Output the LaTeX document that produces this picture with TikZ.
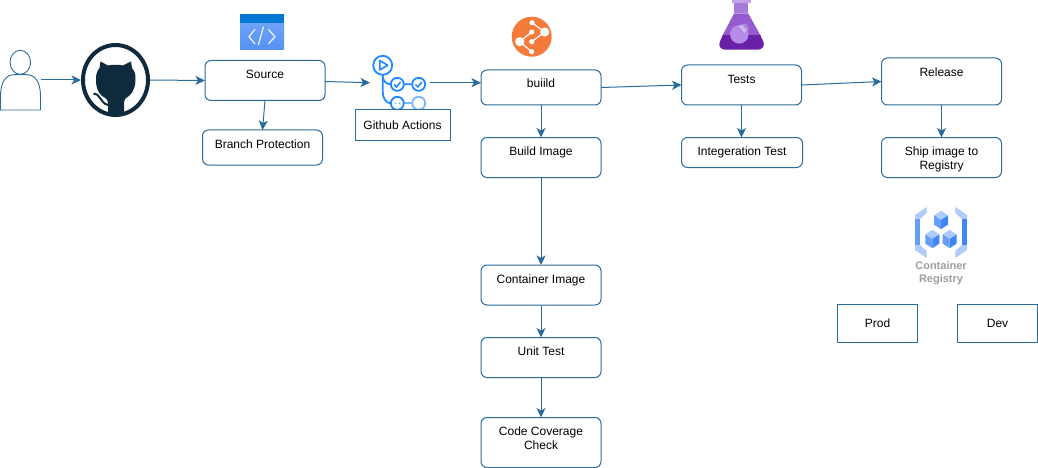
\documentclass[tikz,border=0pt]{standalone}
\usepackage{fontspec}
\setmainfont{Liberation Sans}
\usetikzlibrary{arrows.meta,shapes.geometric}
\definecolor{lnc}{HTML}{2A6C9E}
\definecolor{ghc}{HTML}{0F2A3C}
\definecolor{gac}{HTML}{2088FF}
\definecolor{gal}{HTML}{79B8FF}
\definecolor{orc}{HTML}{F47B3A}
\definecolor{flq}{HTML}{6A1FA8}
\definecolor{fup}{HTML}{965CCF}
\definecolor{fnk}{HTML}{A67BDC}
\definecolor{flp}{HTML}{C3A2EA}
\definecolor{cbt}{HTML}{AECBFA}
\definecolor{cbl}{HTML}{669DF6}
\definecolor{cbr}{HTML}{4285F4}
\definecolor{azb}{HTML}{0078D4}
\definecolor{bba}{HTML}{B78CE8}
\definecolor{bbb}{HTML}{AC80E2}
\definecolor{bbc}{HTML}{D2B8F2}
\tikzset{
  rbox/.style={draw=lnc,line width=1pt,rounded corners=6pt,fill=white,font=\fontsize{12}{14}\selectfont,
    inner xsep=0pt,inner ysep=0pt,outer sep=0pt,minimum width=120pt,align=center},
  tl/.style 2 args={text height=#1pt,text depth=#2pt},
  sbox/.style={draw=lnc,line width=1pt,fill=white,font=\fontsize{12}{14}\selectfont,
    inner sep=0pt,outer sep=0pt},
  conn/.style={draw=lnc,line width=1pt,-{Stealth[length=9.5pt,width=9pt,inset=2.5pt]}},
  gal0/.style={draw=gac,line width=1.8pt,fill=white},
  crtext/.style={font=\fontsize{11}{13.5}\selectfont\bfseries,text=black!38,align=center,inner sep=0pt},
  pics/crcube/.style={code={
    \fill[cbt] (0,-9.2)--(7,-4.6)--(0,0)--(-7,-4.6)--cycle;
    \fill[cbl] (-7,-4.6)--(0,0)--(0,9.2)--(-7,4.6)--cycle;
    \fill[cbr] (7,-4.6)--(0,0)--(0,9.2)--(7,4.6)--cycle;
  }}
}
\begin{document}
\begin{tikzpicture}[x=1pt,y=-1pt]
\useasboundingbox (0,0) rectangle (1038,468);
% person
\draw[lnc,line width=0.9pt,fill=white] (0.5,110) -- (0.5,96) .. controls (0.5,82) and (6,74.7) .. (14,74.7) -- (27,74.7) .. controls (35,74.7) and (40.5,82) .. (40.5,96) -- (40.5,110) -- cycle;
\draw[lnc,line width=0.9pt,fill=white] (20.3,62.3) ellipse [x radius=10.3,y radius=12];
\coordinate (user) at (40.5,80);
% github
\node[ellipse,draw=ghc,line width=4pt,fill=white,inner sep=0pt,minimum width=65pt,minimum height=70pt] (gh) at (115.5,80) {};
\fill[ghc] (108,115) -- (108,104) .. controls (108,100) and (106,98) .. (102,96) .. controls (97,92) and (95.5,84) .. (96,78) .. controls (96,73) and (98,70) .. (99.5,68) -- (100.5,61.5) -- (108,65.5) .. controls (112,64.5) and (119,64.5) .. (123,65.5) -- (131,61.5) -- (132,68) .. controls (134,70) and (135.5,73) .. (135.5,78) .. controls (136,84) and (134,92) .. (129,96) .. controls (125,98) and (124,100) .. (124,104) -- (124,115) .. controls (119,116) and (113,116) .. (108,115) -- cycle;
\draw[ghc,line width=2pt] (93.5,93.5) .. controls (100,93) and (100,103) .. (108,105);
% source icon
\shade[top color=cbl!95!white,bottom color=cbr!90!white] (240,23) rectangle (284,50);
\fill[azb] (240,14) rectangle (284,23);
\draw[white!85!cbl,line width=1.3pt] (255,29.3) -- (249,36.7) -- (255,44);
\draw[white!85!cbl,line width=1.3pt] (268.3,29.3) -- (275,36.7) -- (268.3,44);
\draw[white!85!cbl,line width=1.3pt] (263.5,26.7) -- (258.3,45);
% build icon
\fill[orc] (531.7,36.7) circle [radius=20];
\draw[white,line width=1.2pt] (532,22.7) -- (544.7,32) -- (531.7,41.7);
\draw[white,line width=1.2pt] (531.7,32) -- (519.7,41.7) -- (531.7,51.7);
\foreach \cx/\cy/\cr in {532/22.7/2.6,544.7/32/4.6,531.7/32/2.6,519.7/41.7/4.6,531.7/41.7/2.6,531.7/51.7/2.6}
  \fill[white] (\cx,\cy) circle [radius=\cr];
% flask
\fill[flp] (731.7,0) rectangle (750.7,3.5);
\fill[fnk] (734,3) rectangle (748.3,13);
\fill[fup] (734,13.5) -- (748.3,13.5) -- (760,34.5) -- (723,34.5) -- cycle;
\fill[flq] (723,34.3) -- (760,34.3) -- (763.5,42) .. controls (765,46) and (762,49.7) .. (758,49.7) -- (725,49.7) .. controls (721,49.7) and (718,46) .. (719.8,42) -- cycle;
\fill[bba] (739.3,34.3) circle [radius=9.3];
\fill[bbb] (744,28.3) circle [radius=5];
\fill[bbc] (738.5,26.6) -- (744,33) -- (747,30) -- (742,25) -- cycle;
% actions icon
\draw[gac,line width=1.8pt] (382.7,75) -- (382.7,92) .. controls (382.7,98) and (386,103.3) .. (391,103.3);
\draw[gac,line width=1.8pt] (382.7,76) .. controls (383,81) and (386,84.3) .. (391,84.3) -- (412,84.3);
\draw[gal,line width=1.8pt] (404,103.3) -- (412,103.3);
\draw[gal0] (382.7,65.3) circle [radius=9.5];
\draw[gac,line width=1.6pt,line join=round] (379.7,60.5) -- (387.7,65.3) -- (379.7,70) -- cycle;
\draw[gal0] (397.3,84.3) circle [radius=6.5];
\draw[gal0] (418.7,84.3) circle [radius=6.5];
\draw[gac,line width=1.5pt] (394,84.5) -- (396.5,87) -- (400.5,82);
\draw[gac,line width=1.5pt] (415.4,84.5) -- (417.9,87) -- (421.9,82);
\draw[gal0] (397.3,103.3) circle [radius=6.5];
\fill[gal] (395.2,103.3) circle [radius=0.9] (399.4,103.3) circle [radius=0.9];
\draw[gal,line width=1.8pt,fill=white] (418.7,103.3) circle [radius=6.5];
\coordinate (ghaIn) at (370,82.7);
\coordinate (ghaOut) at (430,82.7);
% boxes
\node[rbox,tl={18.2}{21.8}] (src) at (265,80.5) {Source};
\node[rbox,tl={18.3}{16.7}] (bp) at (262.5,147.5) {Branch Protection};
\node[sbox,minimum width=95pt,minimum height=30pt] (gha) at (402.5,125) {Github Actions};
\node[rbox,tl={18}{17}] (bld) at (541,87.5) {buiild};
\node[rbox,tl={17.8}{22.2}] (bimg) at (541,157.5) {Build Image};
\node[rbox,tl={18}{22}] (cimg) at (541,285) {Container Image};
\node[rbox,tl={17.8}{22.2}] (unit) at (541,357.5) {Unit Test};
\node[rbox,minimum height=50pt] (cov) at (541,442.5) {Code Coverage\\Check\\[-6pt]\mbox{}};
\node[rbox,tl={18.5}{21.5}] (tst) at (741.5,85) {Tests};
\node[rbox,tl={17.8}{12.2},minimum width=121pt] (itg) at (742,152.5) {Integeration Test};
\node[rbox,tl={18.5}{28.5}] (rel) at (941.5,81.5) {Release};
\node[rbox,minimum height=40pt] (ship) at (941.5,157.5) {\rule{0pt}{12pt}Ship image to\\Registry};
\node[sbox,minimum width=80pt,minimum height=38.5pt] (prod) at (877.5,323.25) {Prod};
\node[sbox,minimum width=80pt,minimum height=38.5pt] (dev) at (997.5,323.25) {Dev};
% registry icon
\fill[cbt] (926.7,207) -- (926.7,213) -- (920,219) -- (915,219) -- (915,215) -- cycle;
\fill[cbl] (915,219) rectangle (920,245);
\fill[cbt] (915,245) -- (920,245) -- (926.7,251) -- (926.7,258) -- (915,250) -- cycle;
\fill[cbt] (955.3,207) -- (955.3,213) -- (962,219) -- (967,219) -- (967,215) -- cycle;
\fill[cbr] (962,219) rectangle (967,245);
\fill[cbt] (967,245) -- (962,245) -- (955.3,251) -- (955.3,258) -- (967,250) -- cycle;
\pic at (941,220) {crcube};
\pic at (932.3,239) {crcube};
\pic at (949.7,239) {crcube};
\node[crtext] (crlabel) at (941,273) {Container\\Registry};
% connectors
\draw[conn] (user) -- (gh.west);
\draw[conn] (gh.east) -- (src.west);
\draw[conn] (src.south) -- (bp.north);
\draw[conn] ([yshift=-1pt]src.east) -- (ghaIn);
\draw[conn] (ghaOut) -- (ghaOut -| bld.west);
\draw[conn] (bld.east) -- (tst.west);
\draw[conn] (tst.east) -- (rel.west);
\draw[conn] (bld.south) -- (bimg.north);
\draw[conn] (bimg.south) -- (cimg.north);
\draw[conn] (cimg.south) -- (unit.north);
\draw[conn] (unit.south) -- (cov.north);
\draw[conn] (tst.south) -- (itg.north -| tst.south);
\draw[conn] (rel.south) -- (ship.north);
\end{tikzpicture}
\end{document}
